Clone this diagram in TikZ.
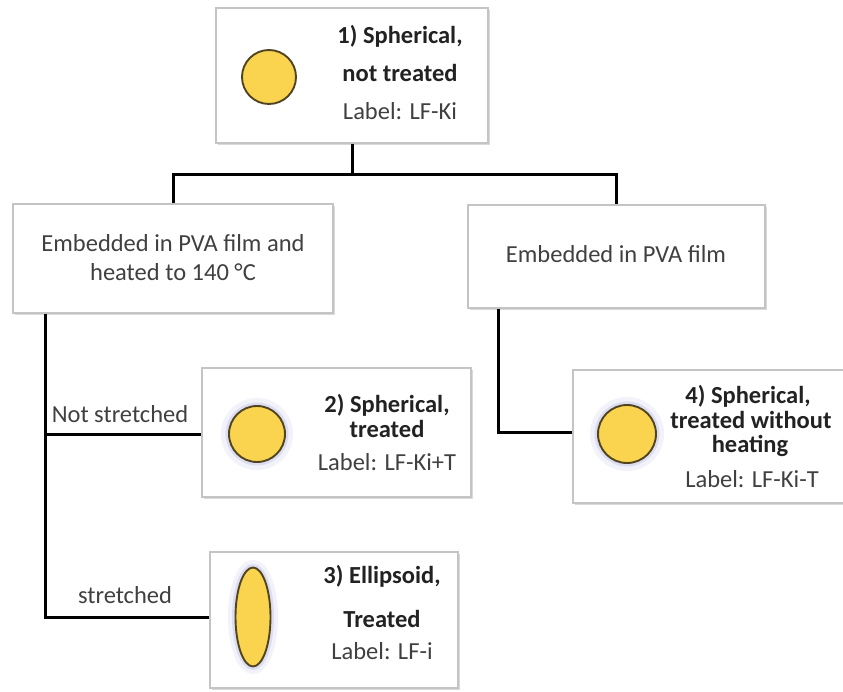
\documentclass[tikz,border=0pt]{standalone}
\usepackage{fontspec}
\setmainfont{Carlito}
\usetikzlibrary{shadows,shapes.geometric}
\definecolor{txtgray}{HTML}{404040}
\definecolor{txtbold}{HTML}{222222}
\definecolor{boxline}{HTML}{C4C4C4}
\definecolor{ballfill}{HTML}{FAD44E}
\definecolor{balledge}{HTML}{514421}
\definecolor{glowc}{HTML}{A8A8DC}
\tikzset{
  box/.style={draw=boxline, line width=1.1pt, fill=white, inner sep=0pt,
    drop shadow={shadow xshift=1.5pt, shadow yshift=-1.8pt, opacity=0.3, fill=gray}},
  conn/.style={draw=black, line width=3pt},
  reg/.style={anchor=base, text=txtgray, font=\fontsize{24.5}{29}\selectfont, inner sep=0pt},
  bld/.style={anchor=base, text=txtbold, font=\fontsize{24.5}{29}\selectfont\bfseries, inner sep=0pt},
  ball/.style={fill=ballfill, draw=balledge, line width=1.9pt},
  glow1/.style={draw=glowc, line width=10pt, opacity=0.14},
  glow2/.style={draw=glowc, line width=5pt, opacity=0.28},
}
\begin{document}
\begin{tikzpicture}[x=1pt,y=-1pt]
\useasboundingbox (0,0) rectangle (843,692);
% boxes
\node[box, minimum width=272pt, minimum height=135pt] (b1) at (352,75.5) {};
\node[box, minimum width=320pt, minimum height=109pt] (ba) at (173,258.5) {};
\node[box, minimum width=297pt, minimum height=103pt] (bb) at (616.5,256.5) {};
\node[box, minimum width=269pt, minimum height=129pt] (b2) at (336.5,432.5) {};
\node[box, minimum width=273pt, minimum height=133pt] (b4) at (709.5,436.5) {};
\node[box, minimum width=248pt, minimum height=136pt] (b3) at (334,620) {};
% connectors
\coordinate (split) at (352,175);
\coordinate (lv) at (45,0);
\coordinate (rv) at (498,0);
\coordinate (j2) at (45,434);
\coordinate (j3) at (45,617);
\coordinate (j4) at (498,432);
\draw[conn] (b1.south) -- (split);
\draw[conn] (ba.north) |- (split) -| (bb.north);
\draw[conn] (ba.south -| lv) -- (j3) -- (j3 -| b3.west);
\draw[conn] (j2) -- (j2 -| b2.west);
\draw[conn] (bb.south -| rv) -- (j4) -- (j4 -| b4.west);
% particles
\node[ball, circle, minimum size=54pt, inner sep=0pt] (p1) at (269,77) {};
\draw[glow1] (257,434) circle (31pt);
\draw[glow2] (257,434) circle (29pt);
\node[ball, circle, minimum size=56pt, inner sep=0pt] (p2) at (257,434) {};
\draw[glow1] (627,434) circle (32pt);
\draw[glow2] (627,434) circle (30pt);
\node[ball, circle, minimum size=58pt, inner sep=0pt] (p4) at (627,434) {};
\draw[glow1] (253,617) ellipse (20pt and 52pt);
\draw[glow2] (253,617) ellipse (18.5pt and 50.5pt);
\node[ball, ellipse, minimum width=35pt, minimum height=99pt, inner sep=0pt] (p3) at (253,617) {};
% texts box 1
\node[bld] (t1a) at (400,44) {1) Spherical,};
\node[bld] (t1b) at (400,82) {not treated};
\node[reg] (t1c) at (400,120) {Label: LF-Ki};
% text left / right boxes
\node[reg] (tla) at (173,252) {Embedded in PVA film and};
\node[reg] (tlb) at (173,281) {heated to 140 °C};
\node[reg] (tr) at (616,263) {Embedded in PVA film};
% box 2
\node[bld] (t2a) at (387,412) {2) Spherical,};
\node[bld] (t2b) at (387,437) {treated};
\node[reg] (t2c) at (387,470) {Label: LF-Ki+T};
% box 4
\node[bld] (t4a) at (748,403) {4) Spherical,};
\node[bld] (t4b) at (751,428) {treated without};
\node[bld] (t4c) at (750,452) {heating};
\node[reg] (t4d) at (752,487) {Label: LF-Ki-T};
% box 3
\node[bld] (t3a) at (382,583) {3) Ellipsoid,};
\node[bld] (t3b) at (382,627) {Treated};
\node[reg] (t3c) at (382,659) {Label: LF-i};
% branch labels
\node[reg] (ns) at (120,422) {Not stretched};
\node[reg] (st) at (125,603) {stretched};
\end{tikzpicture}
\end{document}
